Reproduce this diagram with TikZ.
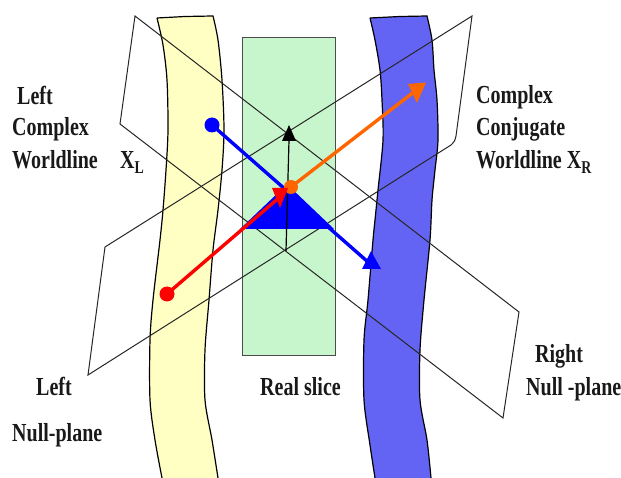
\documentclass[tikz,border=0pt]{standalone}
\usepackage{fontspec}
\setmainfont{Liberation Serif}
\newfontfamily\lblfont[FakeStretch=0.77]{Liberation Serif Bold}
\newcommand{\subtxt}[1]{\raisebox{-5pt}{\fontsize{18}{20}\selectfont #1}}
\tikzset{
  lbl/.style={anchor=base west,inner sep=0pt,font=\lblfont\fontsize{26}{30}\selectfont,text=black!90},
  plane/.style={draw=black!85,line width=1pt,line join=miter},
  band/.style={draw=black,line width=1.2pt},
  dot/.style={circle,inner sep=0pt,minimum size=#1},
  ray/.style={line width=3.4pt},
}
\definecolor{bandyellow}{HTML}{FFFFC4}
\definecolor{slicegreen}{HTML}{C8F6CC}
\definecolor{bandblue}{HTML}{6464F4}
\definecolor{rayblue}{HTML}{0000FF}
\definecolor{rayred}{HTML}{FF0000}
\definecolor{rayorange}{HTML}{FF6600}
\begin{document}
\begin{tikzpicture}[x=1pt,y=-1pt]
\useasboundingbox (0,0) rectangle (621,478);
% yellow band
\fill[bandyellow] plot[smooth,tension=0.5] coordinates {(157,18)(163,45)(167,80)(168,130)(166,170)(163,210)(160,240)(153,300)(150,340)(150,400)(155,440)(162,478)}
  -- plot[smooth,tension=0.5] coordinates {(218,478)(212,440)(205,400)(205,350)(209,300)(213,250)(218,210)(222,170)(224,130)(222,80)(218,40)(213,16)} -- (185,17) -- cycle;
\draw[band] plot[smooth,tension=0.5] coordinates {(157,18)(163,45)(167,80)(168,130)(166,170)(163,210)(160,240)(153,300)(150,340)(150,400)(155,440)(162,478)};
\draw[band] plot[smooth,tension=0.5] coordinates {(218,478)(212,440)(205,400)(205,350)(209,300)(213,250)(218,210)(222,170)(224,130)(222,80)(218,40)(213,16)} -- (185,16.5) -- (157,18);
% green slice
\node[draw=black!70,line width=1.2pt,fill=slicegreen,minimum width=93pt,minimum height=318pt,inner sep=0pt,anchor=north west] (slice) at (242,37) {};
% blue band
\fill[bandblue] plot[smooth,tension=0.5] coordinates {(370,18)(375,40)(380,70)(382,100)(383,140)(378,190)(375,220)(373,240)(368,300)(364,340)(364,400)(370,445)(375,478)}
  -- plot[smooth,tension=0.5] coordinates {(431,478)(427,440)(420,400)(420,350)(424,300)(430,240)(432,200)(435,170)(438,140)(437,100)(434,70)(432,40)(427,16)} -- (400,16.5) -- cycle;
\draw[band] plot[smooth,tension=0.5] coordinates {(370,18)(375,40)(380,70)(382,100)(383,140)(378,190)(375,220)(373,240)(368,300)(364,340)(364,400)(370,445)(375,478)};
\draw[band] plot[smooth,tension=0.5] coordinates {(431,478)(427,440)(420,400)(420,350)(424,300)(430,240)(432,200)(435,170)(438,140)(437,100)(434,70)(432,40)(427,16)} -- (400,16.5) -- (370,18);
% null planes
\draw[plane] (135,16) -- (519,312) -- (503,418) -- (120,124) -- cycle;
\draw[plane] (105,247) -- (472,16) -- (456,136) .. controls (455,141) and (454,142) .. (451,145) -- (88,375) -- cycle;
% blue triangle
\fill[rayblue] (240,229) -- (334,229) -- (292,189) -- (280,191) -- cycle;
% black arrow
\coordinate (blackstart) at (286,251);
\coordinate (blacktip) at (289,125);
\draw[black,line width=1.2pt] (blackstart) -- (289,140);
\fill[black] (blacktip) -- (296,141) -- (282,141) -- cycle;
% blue ray
\node[dot=15pt,fill=rayblue] (bluedot) at (212,125) {};
\coordinate (bluetip) at (371,251);
\coordinate (blueend) at (368,262);
\draw[ray,rayblue] (bluedot.center) -- (blueend);
\fill[rayblue] (bluetip) -- (381,269) -- (362,269) -- cycle;
% red ray
\node[dot=15pt,fill=rayred] (reddot) at (167,294) {};
\coordinate (redend) at (281,196);
\draw[ray,rayred] (reddot.center) -- (redend);
% orange ray
\node[dot=14pt,fill=rayorange] (orangedot) at (291,187) {};
\coordinate (orangeend) at (419,88);
\draw[ray,rayorange] (orangedot.center) -- (orangeend);
\fill[rayorange] (408,84) -- (426,82.5) -- (417,103) -- cycle;
\fill[rayred] (272,188) -- (288,188) -- (280,208) -- cycle;
% labels
\node[lbl] (t1) at (17,105) {Left};
\node[lbl] (t2) at (12,136) {Complex};
\node[lbl] (t3) at (12,169) {Worldline};
\node[lbl] (t4) at (120,169) {X\subtxt{L}};
\node[lbl] (t5) at (476,104) {Complex};
\node[lbl] (t6) at (476,136) {Conjugate};
\node[lbl] (t7) at (476,169) {Worldline X\subtxt{R}};
\node[lbl] (t8) at (535,362) {Right};
\node[lbl] (t9) at (526,395) {Null -plane};
\node[lbl] (t10) at (36,395) {Left};
\node[lbl] (t11) at (12,441) {Null-plane};
\node[lbl] (t12) at (260,395) {Real slice};
\end{tikzpicture}
\end{document}
